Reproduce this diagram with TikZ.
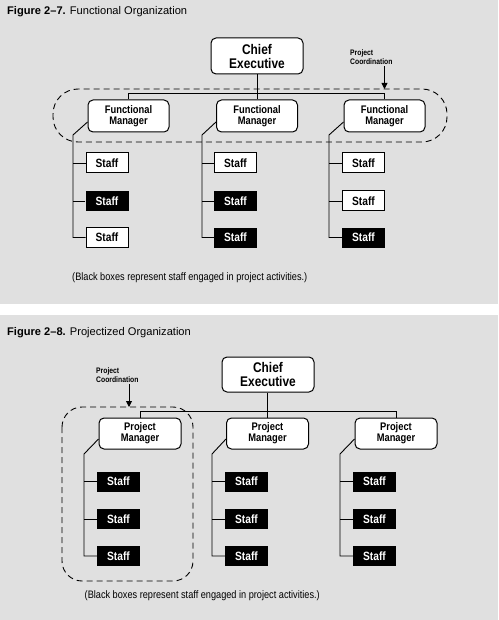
\documentclass[tikz,border=0pt]{standalone}
\usepackage{fontspec}
\setmainfont{Liberation Sans}
\newfontfamily\cnd{Liberation Sans}[FakeStretch=0.85]
\usetikzlibrary{calc,arrows.meta}
\definecolor{bg}{RGB}{224,224,224}
\begin{document}
\begin{tikzpicture}[x=1pt,y=-1pt,
  ln/.style={line width=0.9pt},
  ce/.style={draw, fill=white, rounded corners=5pt, line width=1pt, align=center, inner sep=0pt,
    minimum width=92pt, minimum height=36pt, font=\cnd\bfseries\fontsize{14}{14}\selectfont},
  mgr/.style={draw, fill=white, rounded corners=5pt, line width=1pt, align=center, inner sep=0pt,
    minimum width=81pt, minimum height=32pt, font=\cnd\bfseries\fontsize{11}{11}\selectfont},
  sw/.style={draw, fill=white, line width=1pt, inner sep=0pt, minimum width=42pt, minimum height=20pt,
    font=\cnd\bfseries\fontsize{12}{12}\selectfont},
  sb/.style={fill=black, text=white, inner sep=0pt, minimum width=43pt, minimum height=20pt,
    font=\cnd\bfseries\fontsize{12}{12}\selectfont},
  pc/.style={anchor=west, align=left, inner sep=0pt, font=\cnd\bfseries\fontsize{8}{8.5}\selectfont},
  captxt/.style={anchor=west, inner sep=0pt, font=\cnd\fontsize{10.8}{11}\selectfont},
  ttl/.style={anchor=west, inner sep=0pt, font=\fontsize{11.1}{12}\selectfont},
  dsh/.style={line width=0.9pt, dash pattern=on 6pt off 4pt},
  arr/.style={line width=0.9pt, -{Triangle[length=6pt,width=6pt]}}
]
\useasboundingbox (0,0) rectangle (498,620);
\fill[bg] (0,0) rectangle (498,304);
\fill[white] (0,304) rectangle (498,315);
\fill[bg] (0,315) rectangle (498,620);

% ---------- Figure 2-7 ----------
\node[ttl] (t1) at (7,12) {\textbf{Figure 2--7.} Functional Organization};
\draw[dsh, rounded corners=25pt] (53,89) rectangle (447,142);
\node[ce] (ce1) at (257,56) {Chief\\Executive};
\node[mgr] (fm1) at (128.5,116) {Functional\\Manager};
\node[mgr] (fm2) at (257,116) {Functional\\Manager};
\node[mgr] (fm3) at (384.5,116) {Functional\\Manager};
\coordinate (j1) at (257,93);
\draw[ln] (ce1.south) -- (j1);
\draw[ln] (fm1.north) -- (fm1.north |- j1) -- (fm3.north |- j1) -- (fm3.north);
\draw[ln] (fm2.north) -- (fm2.north |- j1);

\node[sw] (s11) at (107,163) {Staff};
\node[sb] (s12) at (107,201) {Staff};
\node[sw] (s13) at (107,237.5) {Staff};
\node[sw] (s21) at (235.5,163) {Staff};
\node[sb] (s22) at (235.5,201) {Staff};
\node[sb] (s23) at (235.5,237.5) {Staff};
\node[sw] (s31) at (363.5,163) {Staff};
\node[sw] (s32) at (363.5,201) {Staff};
\node[sb] (s33) at (363.5,237.5) {Staff};

\coordinate (d1) at (73,135);
\coordinate (d2) at (202,135);
\coordinate (d3) at (329,135);
\foreach \c in {1,2,3}{
  \draw[ln] ($(fm\c.west)+(0,6)$) -- (d\c) -- (d\c |- s\c3.west) -- (s\c3.west);
  \draw[ln] (s\c1.west) -- (s\c1.west -| d\c);
  \draw[ln] (s\c2.west) -- (s\c2.west -| d\c);
}
\node[pc] (pc1) at (350,57) {Project\\Coordination};
\coordinate (a1) at (384.5,89);
\draw[arr] (pc1.south -| a1) ++(0,2) -- (a1);
\node[captxt] (c1) at (72,278) {(Black boxes represent staff engaged in project activities.)};

% ---------- Figure 2-8 ----------
\node[ttl] (t2) at (7,333) {\textbf{Figure 2--8.} Projectized Organization};
\draw[dsh, rounded corners=20pt] (62,407) rectangle (193,581);
\node[ce, minimum height=35pt] (ce2) at (268,374.5) {Chief\\Executive};
\node[mgr, minimum width=82pt, minimum height=31pt] (pm1) at (140,433.5) {Project\\Manager};
\node[mgr, minimum width=82pt, minimum height=31pt] (pm2) at (267.5,433.5) {Project\\Manager};
\node[mgr, minimum width=82pt, minimum height=31pt] (pm3) at (396,433.5) {Project\\Manager};
\coordinate (j2) at (267,411);
\draw[ln] (ce2.south -| j2) -- (j2);
\draw[ln] (pm1.north) -- (pm1.north |- j2) -- (pm3.north |- j2) -- (pm3.north);
\draw[ln] (pm2.north) -- (pm2.north |- j2);

\node[sb] (p11) at (118.5,481.5) {Staff};
\node[sb] (p12) at (118.5,519) {Staff};
\node[sb] (p13) at (118.5,556) {Staff};
\node[sb] (p21) at (246.5,481.5) {Staff};
\node[sb] (p22) at (246.5,519) {Staff};
\node[sb] (p23) at (246.5,556) {Staff};
\node[sb] (p31) at (374.5,481.5) {Staff};
\node[sb] (p32) at (374.5,519) {Staff};
\node[sb] (p33) at (374.5,556) {Staff};

\coordinate (e1) at (84,454);
\coordinate (e2) at (212,454);
\coordinate (e3) at (340,454);
\foreach \c in {1,2,3}{
  \draw[ln] ($(pm\c.west)+(0,5.5)$) -- (e\c) -- (e\c |- p\c3.west) -- (p\c3.west);
  \draw[ln] (p\c1.west) -- (p\c1.west -| e\c);
  \draw[ln] (p\c2.west) -- (p\c2.west -| e\c);
}
\node[pc] (pc2) at (96,375) {Project\\Coordination};
\coordinate (a2) at (129,407);
\draw[arr] (pc2.south -| a2) ++(0,2) -- (a2);
\node[captxt] (c2) at (84.5,596) {(Black boxes represent staff engaged in project activities.)};
\end{tikzpicture}
\end{document}
